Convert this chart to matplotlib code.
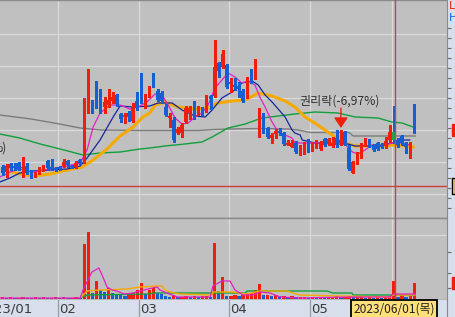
import matplotlib
matplotlib.use('Agg')
import matplotlib.pyplot as plt
import matplotlib.transforms as mtransforms
import numpy as np

plt.rcParams['font.family'] = ['Noto Sans CJK KR', 'DejaVu Sans']

# daily candles (price units), Jan 2023 .. 2023/06/01
opens = [830, 780, 860, 840, 870, 820, 840, 780, 740, 770, 800, 890, 830, 820, 830, 840, 890, 840, 830, 900,
         880, 1410, 1450, 1450, 1520, 1430, 1450, 1490, 1550, 1360, 1330, 1370, 1290, 1490, 1710, 1430, 1570, 1670, 1590, 1570,
         1430, 1320, 1300, 1170, 1170, 1280, 1370, 1480, 1380, 1380, 1400, 1540, 1540, 1870, 1830, 1850, 1660, 1650, 1640, 1590,
         1530, 1740, 1730, 1260, 1360, 1220, 1120, 1160, 1190, 1170, 1050, 1030, 1070, 970, 970, 1100, 1000, 1030, 1010, 1110,
         1060, 1040, 1120, 1070, 1180, 1020, 770, 870, 930, 1070, 1090, 1050, 1070, 1050, 1040, 1100, 1180, 1100, 1140, 1070, 990, 1450]
closes = [770, 840, 820, 820, 810, 830, 770, 770, 770, 820, 840, 820, 810, 800, 810, 880, 850, 830, 870, 870,
          1350, 1460, 1410, 1430, 1380, 1480, 1500, 1530, 1460, 1310, 1350, 1330, 1440, 1420, 1470, 1530, 1600, 1650, 1500, 1490,
          1350, 1340, 1100, 1210, 1250, 1420, 1420, 1330, 1410, 1370, 1520, 1510, 1830, 1790, 1960, 1630, 1680, 1630, 1610, 1490,
          1690, 1680, 1770, 1330, 1190, 1130, 1150, 1190, 1170, 1060, 1070, 1070, 980, 1030, 1070, 990, 1070, 1080, 1080, 1050,
          1110, 1070, 1050, 1100, 1060, 810, 880, 970, 1050, 1100, 1060, 1000, 1010, 1030, 1090, 1180, 1100, 1050, 1070, 1030, 1070, 1200]
highs = [850, 860, 870, 870, 880, 930, 870, 800, 780, 830, 850, 900, 910, 830, 840, 910, 900, 850, 890, 910,
         1520, 1810, 1500, 1690, 1610, 1530, 1610, 1580, 1560, 1370, 1370, 1390, 1470, 1580, 1770, 1560, 1640, 1770, 1610, 1590,
         1460, 1370, 1330, 1230, 1270, 1440, 1440, 1490, 1440, 1430, 1550, 1550, 2100, 1880, 2000, 1860, 1720, 1720, 1680, 1610,
         1730, 1810, 1910, 1420, 1370, 1230, 1170, 1210, 1220, 1180, 1100, 1100, 1090, 1050, 1080, 1110, 1080, 1100, 1090, 1120,
         1120, 1130, 1200, 1200, 1190, 1050, 890, 980, 1070, 1120, 1110, 1060, 1080, 1070, 1130, 1250, 1440, 1120, 1150, 1080, 1080, 1460]
lows = [750, 730, 800, 800, 800, 730, 760, 720, 730, 760, 790, 800, 800, 790, 800, 830, 830, 820, 820, 860,
        870, 1370, 1370, 1420, 1370, 1370, 1430, 1470, 1440, 1280, 1270, 1290, 1280, 1400, 1470, 1420, 1530, 1630, 1490, 1470,
        1340, 1230, 1080, 1160, 1130, 1270, 1310, 1310, 1350, 1350, 1380, 1410, 1530, 1730, 1820, 1620, 1580, 1600, 1530, 1480,
        1520, 1670, 1710, 1130, 1170, 1120, 1070, 1120, 1150, 1050, 1050, 1030, 970, 950, 960, 980, 990, 1020, 1000, 1040,
        1050, 1030, 1030, 1050, 1050, 800, 770, 860, 920, 1040, 1030, 990, 1000, 1020, 1020, 1080, 1070, 1030, 1050, 970, 920, 1170]
volumes = [200, 100, 200, 100, 100, 200, 100, 100, 200, 100, 200, 100, 100, 200, 100, 200, 100, 100, 200, 100,
           5500, 6700, 600, 1800, 900, 700, 1100, 600, 500, 400, 300, 400, 600, 900, 1600, 500, 900, 1100, 600, 500,
           300, 200, 400, 200, 200, 300, 200, 300, 200, 300, 300, 200, 5600, 800, 2200, 300, 300, 400, 300, 400,
           600, 600, 900, 1500, 400, 400, 300, 400, 300, 300, 200, 300, 200, 200, 200, 100, 200, 100, 200, 100,
           200, 200, 300, 200, 200, 300, 200, 200, 200, 100, 200, 100, 200, 100, 200, 300, 1800, 200, 400, 200, 300, 1600]

# price moving averages (x in trading-day index)
ma5_x = [-0.7, 1.8, 4.2, 7.4, 11.6, 15.8, 19.0, 20.7, 22.2, 23.9, 26.3, 28.8, 31.2, 33.7, 35.4, 37.4, 39.1, 40.6, 42.3, 44.0,
         45.5, 47.2, 48.9, 50.4, 52.1, 53.8, 55.3, 57.0, 58.7, 60.2, 61.9, 63.1, 64.4, 66.1, 67.6, 69.3, 71.0, 71.7, 75.4, 79.8,
         84.0, 85.8, 87.2, 88.9, 90.6, 93.1, 95.5, 98.0, 99.9]
ma5_y = [730, 780, 810, 780, 810, 840, 870, 1000, 1230, 1370, 1450, 1450, 1410, 1440, 1480, 1560, 1550, 1450, 1320, 1260,
         1270, 1330, 1370, 1450, 1620, 1700, 1770, 1730, 1670, 1690, 1650, 1530, 1430, 1280, 1180, 1150, 1120, 1070, 1070, 1070,
         1060, 980, 960, 1000, 1050, 1040, 1070, 1070, 1050]
ma10_x = [-0.7, 1.8, 4.2, 7.4, 11.6, 15.8, 19.0, 20.7, 23.9, 27.1, 28.8, 32.0, 36.1, 38.1, 41.6, 44.0, 47.2, 49.7, 51.4, 53.8,
          56.3, 58.7, 61.2, 62.7, 64.4, 66.1, 67.6, 69.3, 71.0, 71.7, 73.0, 73.5, 76.6, 81.5, 84.7, 86.5, 89.6, 93.1, 95.5, 98.0, 99.9]
ma10_y = [680, 720, 770, 790, 800, 810, 840, 920, 1100, 1330, 1440, 1430, 1440, 1470, 1470, 1400, 1340, 1330, 1400, 1520,
          1580, 1670, 1690, 1650, 1550, 1480, 1410, 1330, 1200, 1170, 1150, 1100, 1070, 1060, 1060, 1040, 1040, 1050, 1070, 1100, 1100]
ma20_x = [2.3, 4.2, 7.4, 11.6, 15.8, 19.5, 22.2, 25.6, 28.8, 32.0, 34.4, 36.1, 37.4, 39.8, 43.0, 47.2, 50.4, 52.8, 56.3, 59.5,
          62.7, 66.1, 69.3, 71.7, 74.2, 76.6, 79.1, 81.5, 84.0, 86.5, 89.6, 93.1, 96.3, 100.7]
ma20_y = [780, 760, 740, 760, 800, 830, 900, 1010, 1140, 1230, 1330, 1370, 1450, 1480, 1430, 1410, 1420, 1470, 1490, 1500,
          1570, 1540, 1490, 1430, 1330, 1270, 1200, 1130, 1070, 1040, 1040, 1040, 1050, 1030]
ma60_x = [-0.7, 4.2, 9.2, 14.1, 19.7, 23.9, 28.8, 33.7, 36.1, 39.8, 44.7, 48.9, 51.4, 55.3, 59.5, 63.6, 67.6, 71.7, 76.6, 82.3,
          86.5, 92.1, 95.5, 98.0, 100.7]
ma60_y = [1160, 1120, 1060, 1010, 950, 970, 980, 1010, 1020, 1040, 1060, 1080, 1130, 1220, 1260, 1320, 1340, 1360, 1380, 1370,
          1330, 1320, 1280, 1270, 1230]
ma120_x = [-0.7, 7.0, 14.0, 19.0, 24.0, 34.0, 48.0, 52.0, 56.0, 63.0, 70.0, 72.5, 75.5, 85.0, 86.0, 101.2]
ma120_y = [1350, 1310, 1260, 1220, 1200, 1195, 1195, 1205, 1210, 1215, 1210, 1200, 1175, 1175, 1140, 1140]

# volume moving averages
vma5_x = [-0.7, 19.0, 19.7, 20.7, 21.9, 23.6, 24.6, 25.6, 26.8, 28.0, 29.8, 32.0, 33.7, 35.7, 37.9, 38.6, 40.3, 42.8, 50.9, 51.6,
          53.8, 55.8, 57.0, 58.2, 59.0, 61.4, 63.1, 65.6, 68.1, 73.0, 85.2, 95.0, 95.8, 101.2]
vma5_y = [100, 100, 900, 1700, 2700, 3100, 2200, 1200, 900, 800, 500, 600, 800, 1000, 1200, 900, 600, 200, 200, 1300,
          1800, 1800, 900, 600, 400, 400, 700, 600, 200, 100, 200, 200, 500, 500]
vma20_x = [19.5, 20.7, 23.9, 30.5, 33.7, 37.9, 39.1, 39.8, 41.1, 43.5, 51.4, 51.6, 56.5, 60.0, 63.1, 69.8, 71.2, 73.0, 82.8, 95.0, 95.8, 101.2]
vma20_y = [300, 800, 900, 1000, 1200, 1300, 1300, 900, 700, 500, 400, 700, 700, 500, 800, 800, 600, 400, 300, 200, 400, 400]
vma60_x = [19.5, 20.7, 36.0, 37.0, 59.5, 60.0, 79.6, 81.0, 85.7, 86.0, 95.0, 101.2]
vma60_y = [200, 400, 500, 600, 600, 800, 800, 600, 600, 400, 400, 400]

month_pos = [-6.5, 13.5, 33.5, 55.5, 75.5, 95.5]
month_labels = ['2023/01', '02', '03', '04', '05', '']
grid_levels = [2160, 1840, 1520, 1200, 880, 560]
sel = 96            # crosshair day
sel_label = '2023/06/01(목)'
cross_price = 640   # horizontal crosshair
event_idx = 83
event_label = '권리락(-6,97%)'

UP = '#f01e0a'
DOWN = '#145fd2'
BG = '#c0c0c0'
GRID = '#dadada'
STRIP = '#d6dfeb'
EDGE = '#8a8a8a'

W, H = 455, 317
XLIM = (-0.66, 109.03)


def frac(x0, y0, x1, y1):
    return [x0 / W, 1 - y1 / H, (x1 - x0) / W, (y1 - y0) / H]


fig = plt.figure(figsize=(W / 100, H / 100), dpi=100)
ax = fig.add_axes(frac(0, 0, 447, 218))
axv = fig.add_axes(frac(0, 218, 447, 300))
axd = fig.add_axes(frac(0, 300, 447, 317))
axr = fig.add_axes(frac(447, 0, 455, 218))
axrv = fig.add_axes(frac(447, 218, 455, 300))
axrd = fig.add_axes(frac(447, 300, 455, 317))

for a in (ax, axv):
    a.set_facecolor(BG)
    for s in a.spines.values():
        s.set_color(EDGE)
        s.set_linewidth(1.0)
    a.spines['left'].set_visible(False)
    a.spines['right'].set_visible(False)
    a.set_xticks(month_pos)
    a.tick_params(length=0, labelbottom=False, labelleft=False)
    a.grid(True, color=GRID, lw=0.9)
    a.set_axisbelow(True)
ax.set_yticks(grid_levels)
axv.set_yticks([6400])

# candles
x = np.arange(len(opens))
o = np.array(opens)
c = np.array(closes)
cols = [UP if cc >= oo else DOWN for oo, cc in zip(o, c)]
body_cols = list(cols)
body_cols[sel] = '#1aa64a'
ax.vlines(x, lows, highs, colors=cols, lw=0.8, zorder=4, antialiased=False)
ax.bar(x, np.maximum(np.abs(c - o), 12), bottom=np.minimum(o, c), width=0.82,
       color=body_cols, linewidth=0, zorder=5, antialiased=False)

# moving averages
ax.plot(ma120_x, ma120_y, color='#7c7c7c', lw=1.0, zorder=3)
ax.plot(ma60_x, ma60_y, color='#12a03c', lw=1.0, zorder=3)
ax.plot(ma20_x, ma20_y, color='#f7a900', lw=2.2, zorder=3)
ax.plot(ma10_x, ma10_y, color='#14289e', lw=0.9, zorder=3)
ax.plot(ma5_x, ma5_y, color='#e61ec8', lw=0.9, zorder=3)

# crosshair
ax.axhline(cross_price, color='#d23c3c', lw=1.0, zorder=6)
for a in (ax, axv):
    a.axvline(sel + 0.3, color='#c04848', lw=1.0, zorder=6)

# event marker
ax.annotate('', xy=(event_idx, 1220), xytext=(event_idx, 1420),
            arrowprops=dict(arrowstyle='-|>,head_length=0.9,head_width=0.6', color=UP, lw=1.0,
                            mutation_scale=7, shrinkA=0, shrinkB=0), zorder=7)
ax.text(72.8, 1490, event_label, fontsize=8.7, color='#303030', ha='left', va='center', zorder=7)
ax.text(1.1, 1020, '%)', fontsize=8.7, color='#303030', ha='right', va='center', zorder=7)

# volume
v = np.array(volumes)
vcols = [UP] + [UP if v[i] >= v[i - 1] else DOWN for i in range(1, len(v))]
axv.bar(x, v, width=0.8, color=vcols, linewidth=0, zorder=4, antialiased=False)
axv.plot(vma60_x, vma60_y, color='#12a03c', lw=1.0, zorder=5)
axv.plot(vma20_x, vma20_y, color='#f7a900', lw=1.0, zorder=5)
axv.plot(vma5_x, vma5_y, color='#e61ec8', lw=0.9, zorder=5)

# date strip
axd.set_facecolor(STRIP)
axd.set_ylim(0, 1)
axd.set_xticks([])
axd.set_yticks([])
for s in axd.spines.values():
    s.set_visible(False)
trans = mtransforms.blended_transform_factory(axd.transData, axd.transAxes)
for p, lab in zip(month_pos, month_labels):
    axd.axvline(p, color='#9c9c9c', lw=0.9)
    if lab:
        axd.text(p + 0.25, 0.45, lab, transform=trans, fontsize=9.5, color='#3a3a3a',
                 family=['Liberation Sans Narrow', 'DejaVu Sans'], ha='left', va='center')
axd.text(sel + 0.1, 0.47, sel_label, transform=trans, fontsize=8.6, color='#202020', ha='center', va='center',
         bbox=dict(boxstyle='square,pad=0.2', fc='#ffe07a', ec='black', lw=1.3), zorder=8)

# right scale strip
for a in (axr, axrv, axrd):
    a.set_facecolor(STRIP)
    a.set_xticks([])
    for s in a.spines.values():
        s.set_visible(False)
    a.spines['left'].set_visible(True)
    a.spines['left'].set_color(EDGE)
axr.set_yticks(np.arange(2220, 330, -100))
axrv.set_yticks([4700, 2600, 1100])
axrd.set_yticks([])
for a in (axr, axrv):
    a.tick_params(axis='y', direction='in', length=3, width=0.8, color='#6a6a6a', labelleft=False)
axr.text(0.2, 0.995, 'L', transform=axr.transAxes, color=UP, fontsize=8, family='DejaVu Sans', va='top', ha='left')
axr.text(0.2, 0.94, 'H', transform=axr.transAxes, color=DOWN, fontsize=8, family='DejaVu Sans', va='top', ha='left')
axr.axhspan(closes[-1] - 60, closes[-1] + 60, xmin=0.68, xmax=1.0, color=UP)
axr.axhspan(cross_price - 80, cross_price + 80, xmin=0.62, xmax=1.0, fc='#ffe07a', ec='black', lw=1)
axrv.axhspan(volumes[-1] - 600, volumes[-1] + 600, xmin=0.68, xmax=1.0, color=UP)

# limits last, so the tick lists cannot widen the view
for a in (ax, axv, axd):
    a.set_xlim(*XLIM)
for a in (axr, axrv, axrd):
    a.set_xlim(0, 1)
ax.set_ylim(320, 2500)
axr.set_ylim(320, 2500)
axv.set_ylim(-100, 8100)
axrv.set_ylim(-100, 8100)

fig.savefig('out.png', dpi=100)
